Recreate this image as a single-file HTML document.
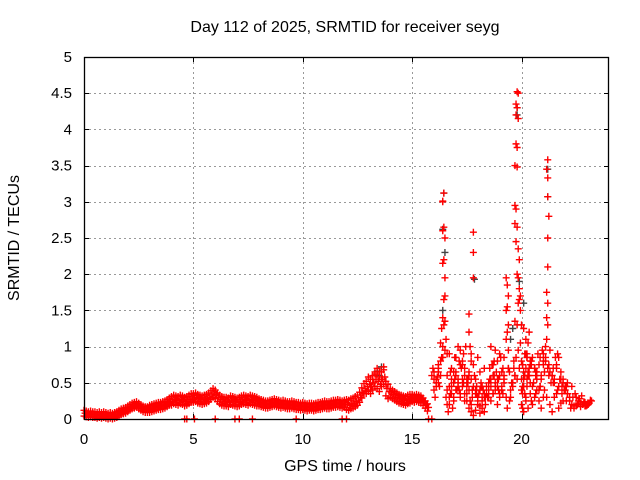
<!DOCTYPE html>
<html><head><meta charset="utf-8"><style>
body{margin:0;background:#fff}
svg{display:block;font-family:"Liberation Sans",sans-serif}
</style></head><body>
<svg id="chart" width="640" height="480" viewBox="0 0 640 480" xmlns="http://www.w3.org/2000/svg">
<rect width="640" height="480" fill="#fff"/>
<text x="345" y="32" font-size="16" text-anchor="middle">Day 112 of 2025, SRMTID for receiver seyg</text>
<text x="345" y="471" font-size="16" text-anchor="middle">GPS time / hours</text>
<text transform="translate(19,238) rotate(-90)" font-size="16" text-anchor="middle">SRMTID / TECUs</text>
<g id="grid"></g>
<g id="ticks"></g>
<g id="gray"></g>
<g id="red"></g>
<rect x="84.5" y="57.5" width="524" height="362" fill="none" stroke="#000" stroke-width="1.3"/>
</svg>
<script>
const xTicks=[0,5,10,15,20];
const yTicks=[0,0.5,1,1.5,2,2.5,3,3.5,4,4.5,5];
const yTickLabels=["0","0.5","1","1.5","2","2.5","3","3.5","4","4.5","5"];
const xMin=0,xMax=24,yMin=0,yMax=5;
const baseStart=0, baseStep=0.1;
const baseVals=[0.08,0.07,0.06,0.07,0.06,0.06,0.05,0.06,0.05,0.06,
0.05,0.04,0.05,0.04,0.05,0.06,0.08,0.10,0.11,0.12,
0.14,0.16,0.18,0.19,0.20,0.18,0.16,0.14,0.13,0.13,
0.14,0.15,0.16,0.17,0.18,0.18,0.19,0.20,0.22,0.24,
0.25,0.27,0.26,0.25,0.27,0.26,0.24,0.25,0.27,0.29,
0.29,0.30,0.28,0.27,0.26,0.27,0.28,0.30,0.33,0.36,
0.34,0.30,0.27,0.25,0.24,0.24,0.23,0.26,0.25,0.24,
0.23,0.24,0.26,0.27,0.26,0.25,0.27,0.26,0.25,0.24,
0.23,0.22,0.21,0.20,0.20,0.21,0.22,0.23,0.22,0.21,
0.20,0.21,0.20,0.19,0.19,0.20,0.19,0.18,0.18,0.17,
0.18,0.17,0.16,0.17,0.17,0.16,0.17,0.18,0.18,0.19,
0.20,0.19,0.19,0.20,0.21,0.21,0.22,0.21,0.20,0.21,
0.20,0.19,0.21,0.22,0.24,0.26,0.30,0.36,0.42,0.45,
0.48,0.45,0.50,0.55,0.52,0.48,0.55,0.58,0.42,0.38,
0.36,0.34,0.32,0.30,0.28,0.27,0.26,0.25,0.27,0.28,
0.29,0.28,0.29,0.28,0.27,0.24,0.20,0.16];
const baseSpread=[0.04,0.04,0.04,0.05,0.06,0.06,0.06,0.06,0.05,0.05,0.05,0.05,0.07,0.10,0.06,0.05];
const scatT=[13.0,13.2,13.3,13.4,13.5,13.6,13.7,13.8,12.9,13.1,
15.9,16.0,16.1,16.2,16.0,16.1,16.2,16.3,15.95,16.05,
16.4,16.4,16.45,16.4,16.5,16.45,16.4,16.5,16.45,16.4,16.5,16.45,16.4,16.5,16.6,16.55,16.5,16.4,16.45,
16.3,16.35,16.6,16.7,16.8,16.9,17.0,17.1,17.2,17.3,17.4,17.5,16.7,16.8,16.9,17.0,17.1,17.2,17.3,17.4,17.5,
16.6,16.7,16.8,16.9,17.0,17.1,17.2,17.3,17.4,17.5,16.65,16.75,16.85,16.95,17.05,17.15,17.25,17.35,17.45,
17.8,17.8,17.8,17.6,17.6,17.65,17.7,17.6,17.7,17.8,17.9,18.0,18.1,18.2,18.3,17.6,17.7,17.8,17.9,18.0,18.1,18.2,18.3,18.4,
17.55,17.65,17.75,17.85,17.95,18.05,18.15,18.25,18.35,18.45,17.6,17.7,17.8,17.9,18.0,18.1,18.2,18.3,
18.5,18.6,18.7,18.8,18.9,19.0,19.1,19.2,18.5,18.6,18.7,18.8,18.9,19.0,19.1,19.2,18.55,18.65,18.75,18.85,18.95,19.05,19.15,
18.6,18.8,19.0,19.2,18.7,18.9,19.1,
19.3,19.35,19.4,19.35,19.3,19.4,19.35,19.3,19.4,19.3,19.45,19.35,19.4,
19.8,19.85,19.75,19.8,19.75,19.85,19.75,19.8,19.7,19.8,19.7,19.75,19.7,19.8,19.75,19.85,19.9,19.8,19.85,19.9,19.95,19.9,19.85,19.95,19.7,19.8,
19.5,19.6,19.7,19.8,19.9,20.0,20.1,20.2,20.3,20.4,19.55,19.65,19.75,19.85,19.95,20.05,20.15,20.25,20.35,
20.0,20.1,20.2,20.3,20.15,20.25,20.05,20.35,
20.0,20.1,20.2,20.3,20.4,20.5,20.6,20.7,20.8,20.9,21.0,20.05,20.15,20.25,20.35,20.45,20.55,20.65,20.75,20.85,20.95,
20.0,20.1,20.2,20.3,20.4,20.5,20.6,20.7,20.8,20.9,21.0,20.05,20.25,20.45,20.65,20.85,
21.2,21.15,21.2,21.2,21.25,21.2,21.2,21.15,21.2,21.15,21.2,21.15,21.1,
21.0,21.1,21.2,21.3,21.4,21.5,21.6,21.7,21.8,21.9,22.0,22.1,21.05,21.15,21.25,21.35,21.45,21.55,21.65,21.75,21.85,21.95,22.05,
21.3,21.5,21.7,21.9,21.4,21.6,21.8,22.0,22.1,
22.2,22.3,22.4,22.5,22.6,22.7,22.8,22.9,23.0,23.1,23.2,22.25,22.35,22.45,22.55,22.65,22.75,22.85,22.95,23.05,23.15,22.4,22.5,22.6,22.7,22.8,22.9,23.0];
const scatV=[0.40,0.55,0.62,0.70,0.65,0.55,0.72,0.48,0.35,0.45,
0.60,0.65,0.55,0.50,0.40,0.45,0.75,0.80,0.70,0.30,
3.00,3.01,3.12,2.60,2.50,2.20,2.15,1.70,1.65,1.40,1.35,1.30,1.00,0.95,0.90,1.10,1.95,0.85,2.65,
1.05,1.25,0.60,0.90,0.70,0.50,0.85,1.00,0.95,0.80,0.70,0.55,0.45,0.35,0.65,0.40,0.55,0.30,0.75,0.60,0.45,
0.20,0.30,0.45,0.25,0.60,0.50,0.35,0.45,0.25,0.35,0.10,0.35,0.15,0.55,0.40,0.80,0.70,0.90,1.00,
2.58,2.30,1.95,1.45,1.20,1.00,0.80,0.65,0.55,0.45,0.35,0.30,0.40,0.25,0.35,0.15,0.10,0.05,0.12,0.20,0.08,0.15,0.30,0.35,
0.50,0.25,0.40,0.60,0.45,0.35,0.50,0.40,0.20,0.30,0.60,0.90,0.75,0.55,0.85,0.65,0.45,0.70,
0.50,0.45,0.60,0.40,0.55,0.35,0.45,0.50,0.30,0.25,0.35,0.45,0.20,0.30,0.40,0.60,0.70,0.75,0.80,0.65,0.55,0.85,0.70,
1.00,0.95,0.90,0.85,0.75,0.80,0.65,
1.95,1.85,1.70,1.55,1.50,1.30,1.20,1.10,0.95,0.30,0.25,0.15,0.70,
4.52,4.50,4.35,4.30,4.20,4.15,3.80,3.75,3.50,3.48,2.95,2.90,2.70,2.65,2.45,2.35,2.20,2.00,1.95,1.80,1.70,1.65,1.60,1.50,1.35,1.30,
0.30,0.45,0.60,0.55,0.70,0.80,0.65,0.90,0.60,0.75,0.50,0.70,0.85,0.95,1.05,0.75,0.60,0.85,0.70,
1.30,1.25,1.10,1.05,0.90,0.85,0.75,1.20,
0.40,0.55,0.30,0.65,0.50,0.45,0.70,0.55,0.40,0.60,0.75,0.15,0.35,0.45,0.60,0.80,0.50,0.65,0.90,0.85,0.95,
0.20,0.10,0.25,0.15,0.35,0.20,0.30,0.40,0.25,0.15,0.30,0.45,0.55,0.25,0.35,0.45,
3.58,3.45,3.33,3.07,2.80,2.50,2.10,1.75,1.60,1.40,1.30,1.10,1.00,
0.90,0.80,0.70,0.95,0.60,0.50,0.75,0.85,0.65,0.55,0.45,0.35,0.40,0.30,0.60,0.50,0.70,0.85,0.90,0.55,0.45,0.40,0.25,
0.20,0.30,0.15,0.25,0.10,0.35,0.22,0.45,0.50,
0.25,0.20,0.18,0.30,0.25,0.22,0.20,0.18,0.20,0.22,0.25,0.15,0.30,0.35,0.20,0.28,0.32,0.24,0.18,0.20,0.26,0.15,0.18,0.22,0.17,0.20,0.23,0.19];
const cloudT=[16.0,16.1,16.2,16.3,16.35,16.25,16.15,16.6,16.7,16.8,16.9,17.0,17.1,17.2,17.3,17.4,
17.5,17.6,17.7,17.9,18.0,18.1,18.2,18.3,18.4,18.5,18.6,18.7,18.8,18.9,19.0,19.1,19.2,19.4,19.5,19.6,
19.7,20.0,20.1,20.2,20.3,20.4,20.5,20.6,20.7,20.8,20.9,21.0,21.1,21.3,21.4,21.5,21.6,21.7,21.8,21.9,22.0,22.1,22.2,22.3,
16.2,16.55,16.75,16.95,17.15,17.35,17.55,17.75,17.95,18.15,18.35,18.55,18.75,18.95,19.15,19.45,19.65,20.05,20.25,20.45,20.65,20.85,21.05,21.25,21.45,21.65,21.85,22.05];
const cloudV=[0.55,0.50,0.65,0.60,0.85,0.45,0.58,0.40,0.20,0.55,0.30,0.65,0.45,0.75,0.55,0.35,
0.25,0.40,0.20,0.40,0.25,0.18,0.30,0.10,0.45,0.40,0.55,0.35,0.50,0.45,0.60,0.40,0.55,0.70,0.40,0.50,
0.60,0.55,0.45,0.70,0.60,0.80,0.85,0.70,0.65,0.75,0.55,0.80,0.85,0.65,0.60,0.55,0.70,0.45,0.55,0.50,0.40,0.35,0.30,0.45,
0.70,0.30,0.65,0.85,0.40,0.50,0.55,0.30,0.35,0.45,0.30,0.55,0.60,0.40,0.35,0.65,0.80,0.35,0.90,0.75,0.60,0.45,0.65,0.75,0.50,0.40,0.35,0.45];
const zeroT=[4.6,4.7,5.05,6.0,6.9,7.1,7.7,9.7,11.8,12.0,15.75,15.9];
const grayT=[16.45,16.4,16.5,13.4,13.6,13.5,17.85,19.6,19.8,19.8,21.2,21.2,19.9,16.4,20.1,19.5];
const grayV=[3.12,2.62,2.30,0.66,0.72,0.60,1.93,1.25,4.30,4.20,3.07,3.45,1.90,1.50,1.60,1.10];

const NS="http://www.w3.org/2000/svg";
const X=h=>84+(h-xMin)/(xMax-xMin)*525;
const Y=v=>419-(v-yMin)/(yMax-yMin)*362;
function mk(tag,attrs,parent){const e=document.createElementNS(NS,tag);for(const k in attrs)e.setAttribute(k,attrs[k]);parent.appendChild(e);return e;}
const grid=document.getElementById('grid'),ticks=document.getElementById('ticks');
xTicks.forEach(t=>{
  const x=Math.round(X(t))+0.5;
  if(t>xMin){const l=mk('line',{x1:x,y1:57,x2:x,y2:419,stroke:'#999','stroke-dasharray':'2,3'},grid);
  
  }
  mk('line',{x1:x,y1:419,x2:x,y2:414,stroke:'#000'},ticks);
  mk('line',{x1:x,y1:57,x2:x,y2:62,stroke:'#000'},ticks);
  const tx=mk('text',{x:X(t),y:444,'font-size':15,'text-anchor':'middle'},ticks);
  tx.textContent=t;
  
  
});
yTicks.forEach((t,i)=>{
  const y=Math.round(Y(t))+0.5;
  if(t>yMin&&t<yMax){const l=mk('line',{x1:84,y1:y,x2:609,y2:y,stroke:'#999','stroke-dasharray':'2,3'},grid);
  
  }
  mk('line',{x1:84,y1:y,x2:89,y2:y,stroke:'#000'},ticks);
  mk('line',{x1:609,y1:y,x2:604,y2:y,stroke:'#000'},ticks);
  const tx=mk('text',{x:72,y:Y(t)+5,'font-size':15,'text-anchor':'end'},ticks);
  tx.textContent=yTickLabels[i];
  
  
});
function plus(g,h,v,col){
  const x=X(h),y=Math.min(Y(v),419);
  const p=mk('path',{d:`M${x-3.5},${y}h7M${x},${y-3.5}v7`,stroke:col,'stroke-width':1.4,fill:'none'},g);
  
  
}
const gG=document.getElementById('gray'),gR=document.getElementById('red');
const red='#ff0000';
grayT.forEach((t,i)=>plus(gG,t,grayV[i],'#444'));
baseVals.forEach((v,i)=>{
  const h=baseStart+i*baseStep;
  const s=baseSpread[Math.min(Math.floor(h),baseSpread.length-1)];
  plus(gR,h,v-s,red);plus(gR,h+0.05,v,red);plus(gR,h,v+s,red);
});
scatT.forEach((t,i)=>plus(gR,t,scatV[i],red));
cloudT.forEach((t,i)=>plus(gR,t,cloudV[i],red));
zeroT.forEach(t=>plus(gR,t,0,red));
</script>
</body></html>
